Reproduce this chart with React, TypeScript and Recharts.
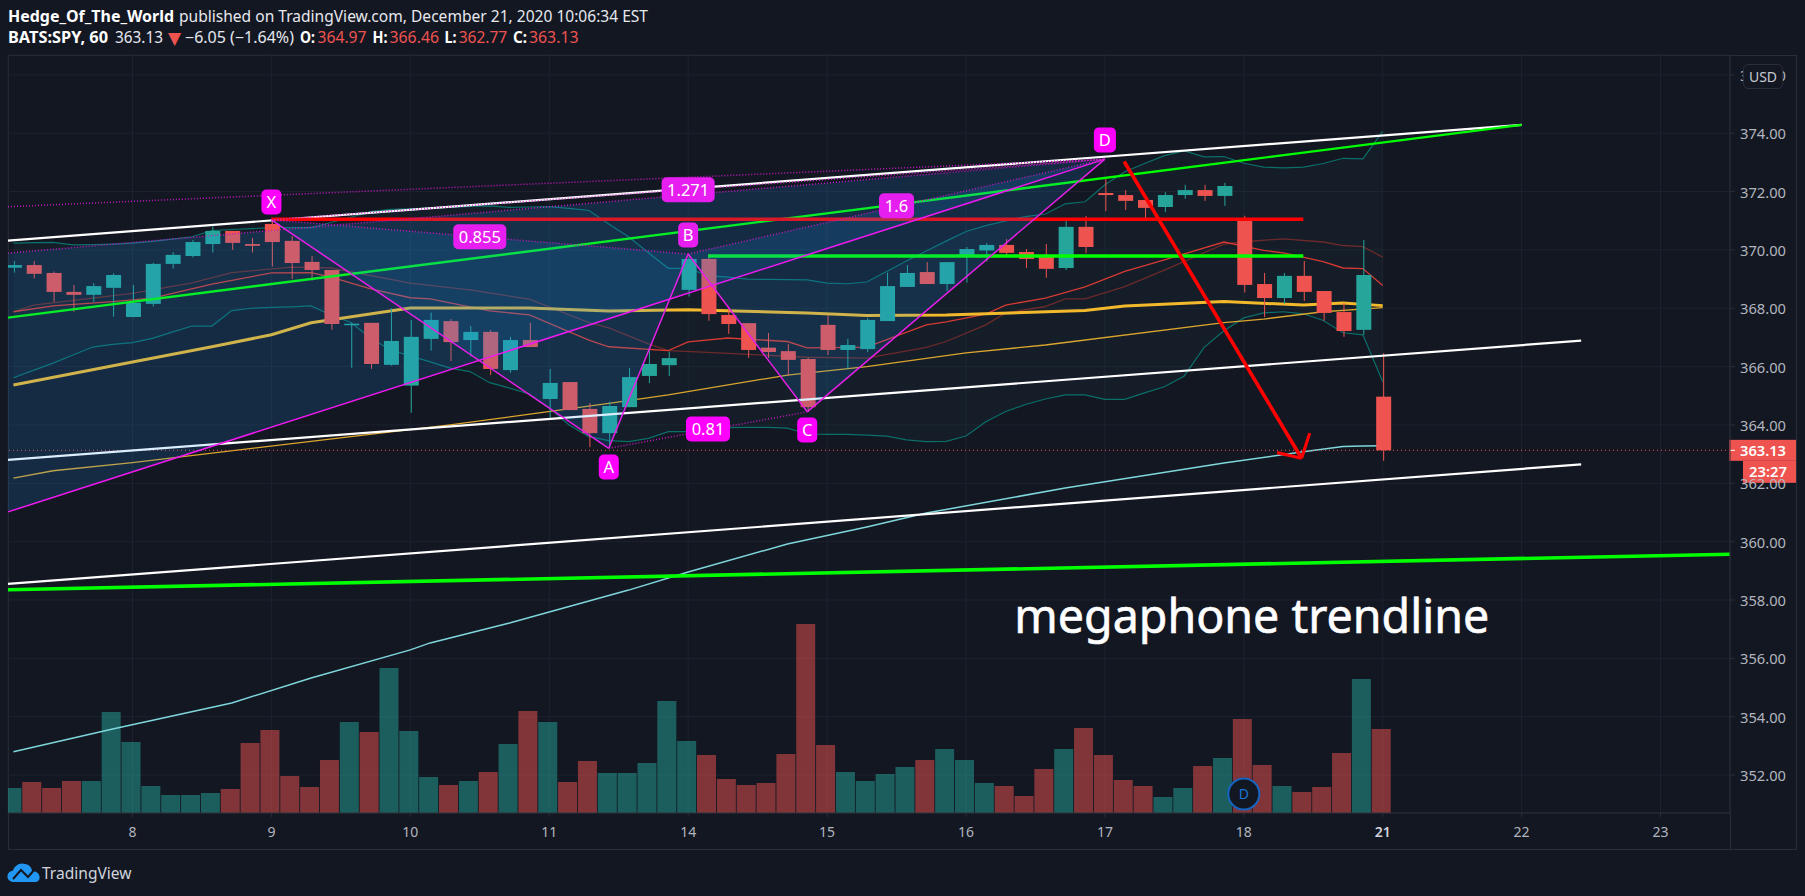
import React from "react";
import {
  ComposedChart, XAxis, YAxis, CartesianGrid, Bar, Line, Area,
  ReferenceLine, ReferenceDot,
} from "recharts";

const FONT = "'Noto Sans', 'Open Sans', sans-serif";
const BG = "#131722";
const UP = "#26a69a";
const DOWN = "#ef5350";
const GRID = "#1e222e";
const FRAME = "#2a2e39";
const TEXT = "#b2b5be";
const CANDLE_W = 15;
const VOL_W = 19;

// hourly bars; index 0 is the first bar of Dec 8
const barStart = -6;
const opens = [369.39,369.48,369.21,368.56,368.46,368.70,367.70,368.15,369.52,369.79,370.20,370.65,370.20,370.89,370.31,369.59,369.31,367.45,367.50,366.06,365.35,366.95,367.56,366.91,367.19,365.88,366.91,364.89,365.47,364.55,363.72,364.61,365.68,366.05,368.63,369.69,367.77,367.49,366.65,366.53,366.26,367.43,366.57,366.60,367.56,368.73,369.24,368.83,369.79,369.98,370.17,369.93,369.76,369.38,370.79,371.95,371.88,371.71,371.47,371.88,372.05,371.85,370.99,368.83,368.35,369.11,368.59,367.87,367.26,364.97];
const highs = [369.62,369.62,369.26,368.80,368.86,369.20,368.80,369.56,369.92,370.34,370.80,370.65,370.41,371.03,370.48,369.79,369.31,367.50,367.50,368.00,367.60,367.85,367.63,367.39,367.26,367.02,367.50,365.92,365.47,364.75,364.80,365.95,366.63,366.51,369.86,369.86,368.00,367.49,367.15,366.77,366.31,367.77,366.95,367.67,369.22,369.48,369.58,369.58,370.10,370.24,370.37,370.03,370.20,370.99,371.16,372.47,372.05,371.71,371.98,372.23,372.23,372.30,371.17,369.21,369.21,369.62,368.59,368.18,370.34,366.46];
const lows = [369.22,369.02,368.22,367.88,368.22,367.71,367.69,368.06,369.36,369.74,369.91,370.00,369.91,369.43,369.00,368.95,367.26,365.96,365.92,366.03,364.42,366.55,366.19,366.35,365.71,365.79,366.67,364.17,364.51,363.24,363.20,364.61,365.43,365.68,368.40,367.57,367.12,366.30,366.30,365.68,364.44,366.40,365.93,366.50,367.56,368.73,368.83,368.59,368.88,369.60,369.76,369.38,369.04,369.31,369.89,371.33,371.37,371.03,371.30,371.75,371.68,371.51,368.54,367.70,368.15,368.25,367.57,367.02,367.09,362.77];
const closes = [369.48,369.18,368.56,368.46,368.76,369.14,368.19,369.52,369.83,370.27,370.65,370.24,370.14,370.27,369.55,369.31,367.46,367.47,366.09,366.88,367.02,367.60,366.84,367.19,365.92,366.91,366.67,365.44,364.51,363.72,364.65,365.64,366.09,366.29,369.69,367.80,367.46,366.57,366.50,366.23,364.61,366.57,366.74,367.60,368.76,369.21,368.83,369.58,370.03,370.17,369.90,369.69,369.35,370.79,370.10,371.88,371.68,371.44,371.88,372.05,371.85,372.19,368.80,368.35,369.11,368.56,367.84,367.22,369.14,363.13];
const volumes = [25,31,25,32,32,101,71,27,18,18,20,24,70,83,37,26,53,91,81,145,82,36,28,32,41,69,102,91,31,52,40,40,50,112,72,58,34,28,30,59,189,68,41,32,39,46,53,64,53,30,27,17,44,64,85,58,33,27,16,25,47,55,94,48,27,21,26,60,134,84];

const bbUpper = [370.23,370.25,370.26,370.17,370.18,370.20,370.23,370.29,370.37,370.45,370.66,370.70,370.73,370.76,370.76,370.76,370.94,371.12,371.31,371.39,371.41,371.44,371.46,371.49,371.51,371.46,371.47,371.48,371.42,371.35,370.89,370.45,369.90,369.37,369.37,369.12,369.07,369.00,368.99,368.98,368.97,368.86,368.84,368.90,369.26,369.62,369.96,370.30,370.63,370.83,370.99,371.14,371.23,371.58,371.65,372.23,372.68,372.96,373.23,373.39,373.19,373.20,372.97,372.84,372.81,372.84,372.96,373.14,373.12,374.06];
const bbLower = [365.62,365.87,366.12,366.40,366.67,366.76,366.82,366.97,367.18,367.39,367.39,367.92,368.00,368.03,368.05,368.08,367.77,367.51,366.98,366.57,366.37,366.16,365.95,365.83,365.45,365.26,365.06,364.58,364.00,363.60,363.46,363.43,363.54,363.77,363.77,363.85,363.91,363.92,363.92,363.89,363.69,363.68,363.68,363.65,363.62,363.49,363.43,363.44,363.62,364.11,364.46,364.70,364.89,365.03,365.03,364.88,364.88,365.10,365.31,365.68,366.66,367.23,367.67,367.84,367.88,367.81,367.58,367.16,367.09,365.48];

// moving averages, read at the bar indices listed beside each
const redMaAt = [-6,-4,-1,1,4,7,9,10,12,14,15,18,20,23,24,27,28,30,33,34,37,40,41,43,44,46,48,50,52,55,57,58,60,61,62,63];
const redMa = [367.88,368.08,368.23,368.35,368.83,369.21,369.22,369.07,368.66,368.36,368.32,367.91,367.77,366.91,366.68,366.55,366.85,366.98,366.86,366.64,366.67,367.43,367.53,367.80,368.11,368.35,368.73,369.26,369.66,370.27,369.98,369.90,369.60,369.38,369.36,368.78];
const brownMaAt = [-6,-5,0,3,5,8,10,14,17,20,23,24,26,27,29,34,37,40,41,43,44,46,47,48,50,52,55,56,58,60,61,62,63];
const brownMa = [367.88,368.11,368.51,368.87,369.22,369.41,369.38,368.86,368.63,368.31,367.51,367.33,366.78,366.55,366.49,366.32,366.29,366.66,366.86,367.43,367.84,368.06,368.32,368.32,368.74,369.31,370.20,370.28,370.38,370.27,370.15,370.11,369.75];
const goldMaAt = [-6,0,4,7,9,14,20,24,28,34,37,41,48,50,55,59,61,63];
const goldMa = [365.37,366.16,366.68,367.09,367.50,368.01,368.01,367.91,367.95,367.84,367.75,367.77,367.92,368.08,368.23,368.11,368.18,368.09];
const amberMaAt = [-6,-4,0,16,24,27,33,37,42,46,55,57,60,63];
const amberMa = [362.18,362.43,362.71,364.00,364.74,365.03,365.71,366.00,366.47,366.74,367.51,367.63,367.88,368.02];
const cyanMaAt = [-6,-1,5,9,14,15,19,25,28,33,37,40,47,55,59,61,62,63];
const cyanMa = [352.80,353.58,354.47,355.33,356.29,356.53,357.21,358.34,358.96,359.92,360.50,360.98,361.84,362.70,363.08,363.26,363.28,363.29];

// axes
const xMin = -6.274;
const xMax = 80.5;
const yMin = 350.70;
const yMax = 376.68;
const dayTicks = [0,7,14,21,28,35,42,49,56,63,70,77];
const dayLabels = ["8","9","10","11","14","15","16","17","18","21","22","23"];
const priceTicks = [352,354,356,358,360,362,364,366,368,370,372,374,376];
const lastPrice = 363.13;

// XABCD pattern pivots [bar index, price]
const pX = [7, 371.03];
const pA = [24, 363.20];
const pB = [28, 369.86];
const pC = [34, 364.45];
const pD = [49, 373.11];
const outerLow = [xMin, 361.02];
const outerMid = [xMin, 369.89];
const outerTop = [xMin, 371.48];

// pattern fill corners: [index, lower price, upper price]
const fillOuter = [[xMin, 361.02, 369.89],[49, 373.11, 373.11]];
const fillXAB = [[7, 371.03, 371.03],[24, 363.20, 370.08],[28, 369.86, 369.86]];
const fillBCD = [[28, 369.86, 369.86],[34, 364.45, 370.79],[49, 373.11, 373.11]];

// trend lines: [x1, price1, x2, price2]
const whiteTop = [xMin, 370.32, 70, 374.285];
const greenTop = [xMin, 367.68, 70, 374.285];
const whiteMid = [xMin, 362.80, 73, 366.89];
const whiteLow = [xMin, 358.55, 73, 362.65];
const greenLow = [xMin, 358.35, xMax, 359.57];
const redLevel = [7, 371.05, 59, 371.05];
const greenLevel = [29, 369.79, 59, 369.79];
const arrowShaft = [49.97, 373.03, 58.91, 362.86];
const arrowHeadA = [57.68, 363.05, 58.91, 362.86];
const arrowHeadB = [59.32, 363.72, 58.91, 362.86];

function buildRows() {
  const map = new Map();
  const row = (i) => {
    if (!map.has(i)) map.set(i, { i });
    return map.get(i);
  };
  opens.forEach((o, k) => {
    const r = row(barStart + k);
    r.o = o; r.h = highs[k]; r.l = lows[k]; r.c = closes[k];
    r.wick = [lows[k], highs[k]];
    r.vol = volumes[k];
    r.bbUp = bbUpper[k];
    r.bbLo = bbLower[k];
    r.bb = [bbLower[k], bbUpper[k]];
  });
  const put = (key, at, vals) => at.forEach((i, k) => { row(i)[key] = vals[k]; });
  put("redMa", redMaAt, redMa);
  put("brownMa", brownMaAt, brownMa);
  put("goldMa", goldMaAt, goldMa);
  put("amberMa", amberMaAt, amberMa);
  put("cyanMa", cyanMaAt, cyanMa);
  fillOuter.forEach(([i, a, b]) => { row(i).fOuter = [a, b]; });
  fillXAB.forEach(([i, a, b]) => { row(i).fXAB = [a, b]; });
  fillBCD.forEach(([i, a, b]) => { row(i).fBCD = [a, b]; });
  return Array.from(map.values()).sort((a, b) => a.i - b.i);
}
const rows = buildRows();

const Candle = (props) => {
  const { x, y, width, height, payload } = props;
  if (!payload || payload.o == null || !Number.isFinite(y)) return null;
  const unit = height / (payload.h - payload.l);
  const isUp = payload.c >= payload.o;
  const color = isUp ? UP : DOWN;
  const top = y + (payload.h - Math.max(payload.o, payload.c)) * unit;
  const bodyH = Math.max(1.5, Math.abs(payload.o - payload.c) * unit);
  const cx = x + width / 2;
  return (
    <g>
      <line x1={cx} x2={cx} y1={y} y2={y + height} stroke={color} strokeWidth={1} />
      <rect x={cx - CANDLE_W / 2} y={top} width={CANDLE_W} height={bodyH} fill={color} />
    </g>
  );
};

const VolBar = (props) => {
  const { x, y, width, height, payload } = props;
  if (!payload || payload.o == null || !Number.isFinite(y)) return null;
  const color = payload.c >= payload.o ? UP : DOWN;
  const cx = x + width / 2;
  return <rect x={cx - VOL_W / 2} y={y} width={VOL_W} height={height} fill={color} fillOpacity={0.5} />;
};

let z = 1;
const nextZ = () => z++;

const seg = (s, stroke, width, dash, zi, key) => (
  <ReferenceLine
    key={key}
    yAxisId="price"
    ifOverflow="visible"
    zIndex={zi}
    segment={[{ x: s[0], y: s[1] }, { x: s[2], y: s[3] }]}
    stroke={stroke}
    strokeWidth={width}
    strokeDasharray={dash}
  />
);

const tag = (label, i, price, w, fill, zi) => (
  <ReferenceDot
    key={label}
    yAxisId="price"
    x={i}
    y={price}
    r={0}
    ifOverflow="visible"
    zIndex={zi}
    shape={(p) => (
      <g>
        <rect x={p.cx - w / 2} y={p.cy - 12.5} width={w} height={25} rx={5} fill={fill} />
        <text x={p.cx} y={p.cy + 6} textAnchor="middle" fontFamily={FONT} fontSize={16.5} fill="#ffffff">{label}</text>
      </g>
    )}
  />
);

const series = (key, color, width, zi) => (
  <Line
    key={key}
    yAxisId="price"
    dataKey={key}
    stroke={color}
    strokeWidth={width}
    dot={false}
    activeDot={false}
    connectNulls
    isAnimationActive={false}
    zIndex={zi}
  />
);

const patternFill = (key, zi) => (
  <Area
    key={key}
    yAxisId="price"
    dataKey={key}
    stroke="none"
    fill="#2196f3"
    fillOpacity={0.16}
    connectNulls
    dot={false}
    activeDot={false}
    isAnimationActive={false}
    zIndex={zi}
  />
);

const headerRuns = [
  ["Hedge_Of_The_World", 8, 166, 17, 700, "#ffffff"],
  ["published on TradingView.com, December 21, 2020 10:06:34 EST", 179, 469, 17, 400, "#e6e8ee"],
  ["BATS:SPY, 60", 8, 100, 38, 700, "#ffffff"],
  ["363.13", 115, 48, 38, 400, "#e6e8ee"],
  ["−6.05 (−1.64%)", 185, 109, 38, 400, "#e6e8ee"],
  ["O:", 300, 15, 38, 700, "#ffffff"],
  ["364.97", 317.5, 49, 38, 400, DOWN],
  ["H:", 372.5, 15, 38, 700, "#ffffff"],
  ["366.46", 389.5, 49.5, 38, 400, DOWN],
  ["L:", 444.5, 12, 38, 700, "#ffffff"],
  ["362.77", 458.7, 48.5, 38, 400, DOWN],
  ["C:", 513, 14, 38, 700, "#ffffff"],
  ["363.13", 529, 49.5, 38, 400, DOWN],
];

export default function App() {
  z = 1;
  const zVol = nextZ();
  const zBb = nextZ();
  const zBbLines = nextZ();
  const zMa = nextZ();
  const zCandles = nextZ();
  const zTrends = nextZ();
  const zFill = nextZ();
  const zPattern = nextZ();
  const zLabels = nextZ();

  return (
    <div style={{ position: "absolute", left: 0, top: 0, width: 1805, height: 896, background: BG, overflow: "hidden" }}>
      <div style={{ position: "absolute", left: 8, top: 55, width: 1787, height: 793, border: `1px solid ${FRAME}` }} />
      <div style={{ position: "absolute", left: 1730, top: 813, width: 1, height: 36, background: FRAME }} />
      <div style={{ position: "absolute", left: 0, top: 0 }}>
        <ComposedChart
          width={1805}
          height={896}
          data={rows}
          margin={{ top: 55, left: 8, right: 9, bottom: 47 }}
        >
          <CartesianGrid stroke={GRID} yAxisId="price" />
          <XAxis
            dataKey="i"
            type="number"
            domain={[xMin, xMax]}
            ticks={dayTicks}
            allowDataOverflow
            height={36}
            interval={0}
            stroke={FRAME}
            tickSize={4}
            tick={(p) => {
              const label = dayLabels[dayTicks.indexOf(p.payload.value)];
              const strong = label === "21";
              return (
                <text x={p.x} y={837} textAnchor="middle" fontFamily={FONT} fontSize={14}
                  fontWeight={strong ? 600 : 400} fill={strong ? "#d1d4dc" : TEXT}>{label}</text>
              );
            }}
          />
          <YAxis
            yAxisId="price"
            orientation="right"
            type="number"
            domain={[yMin, yMax]}
            ticks={priceTicks}
            allowDataOverflow
            width={66}
            stroke={FRAME}
            tickSize={5}
            interval={0}
            tick={(p) => (
              <text x={1740} y={p.y + 6} fontFamily={FONT} fontSize={14.5} fill={TEXT} textLength={46} lengthAdjust="spacingAndGlyphs">
                {p.payload.value.toFixed(2)}
              </text>
            )}
          />
          <YAxis yAxisId="vol" hide type="number" domain={[0, 758]} allowDataOverflow />

          <Bar yAxisId="vol" dataKey="vol" barSize={19} shape={VolBar} isAnimationActive={false} zIndex={zVol} />
          <Area yAxisId="price" dataKey="bb" stroke="none" fill={UP} fillOpacity={0.05} connectNulls dot={false} activeDot={false} isAnimationActive={false} zIndex={zBb} />
          {series("bbUp", "#0b6f6a", 1.2, zBbLines)}
          {series("bbLo", "#0b6f6a", 1.2, zBbLines)}
          {series("brownMa", "#6d2a2b", 1.3, zMa)}
          {series("redMa", "#d63a33", 1.3, zMa)}
          {series("amberMa", "#dba52e", 1.3, zMa)}
          {series("goldMa", "#f2b92c", 3, zMa)}
          {series("cyanMa", "#7fd6dc", 1.5, zMa)}
          <ReferenceLine yAxisId="price" y={lastPrice} stroke={DOWN} strokeWidth={1} strokeDasharray="1 3" ifOverflow="visible" zIndex={zMa} />
          <Bar yAxisId="price" dataKey="wick" barSize={15} shape={Candle} isAnimationActive={false} zIndex={zCandles} />

          {seg(whiteTop, "#ffffff", 2.2, undefined, zTrends, "wt")}
          {seg(greenTop, "#00ff00", 2.4, undefined, zTrends, "gt")}
          {seg(whiteMid, "#ffffff", 2.2, undefined, zTrends, "wm")}
          {seg(whiteLow, "#ffffff", 2.2, undefined, zTrends, "wl")}
          {seg(greenLow, "#00ff00", 3.6, undefined, zTrends, "gl")}
          {seg(redLevel, "#ff0000", 3.4, undefined, zTrends, "rl")}
          {seg(greenLevel, "#00ff00", 3.4, undefined, zTrends, "gv")}

          {patternFill("fOuter", zFill)}
          {patternFill("fXAB", zFill)}
          {patternFill("fBCD", zFill)}

          {seg([pX[0], pX[1], pA[0], pA[1]], "#e81fe8", 1.5, undefined, zPattern, "xa")}
          {seg([pA[0], pA[1], pB[0], pB[1]], "#e81fe8", 1.5, undefined, zPattern, "ab")}
          {seg([pB[0], pB[1], pC[0], pC[1]], "#e81fe8", 1.5, undefined, zPattern, "bc")}
          {seg([pC[0], pC[1], pD[0], pD[1]], "#e81fe8", 1.5, undefined, zPattern, "cd")}
          {seg([outerLow[0], outerLow[1], pD[0], pD[1]], "#f018f0", 1.5, undefined, zPattern, "od")}
          {seg([pX[0], pX[1], pB[0], pB[1]], "#c41ac4", 1.5, "1 2", zPattern, "xb")}
          {seg([pB[0], pB[1], pD[0], pD[1]], "#c41ac4", 1.5, "1 2", zPattern, "bd")}
          {seg([pX[0], pX[1], pD[0], pD[1]], "#d63ad6", 1.5, "1 2", zPattern, "xd")}
          {seg([pA[0], pA[1], pC[0], pC[1]], "#c41ac4", 1.5, "1 2", zPattern, "ac")}
          {seg([outerMid[0], outerMid[1], pD[0], pD[1]], "#c41ac4", 1.5, "1 2", zPattern, "md")}
          {seg([outerTop[0], outerTop[1], pD[0], pD[1]], "#c41ac4", 1.5, "1 2", zPattern, "td")}

          {seg(arrowShaft, "#ff0000", 3.6, undefined, zPattern, "a1")}
          {seg(arrowHeadA, "#ff0000", 3.2, undefined, zPattern, "a2")}
          {seg(arrowHeadB, "#ff0000", 3.2, undefined, zPattern, "a3")}

          {tag("X", 7, 371.64, 20, "#ff00ff", zLabels)}
          {tag("A", 24, 362.56, 20, "#ff00ff", zLabels)}
          {tag("B", 28, 370.51, 20, "#e61ff0", zLabels)}
          {tag("C", 34, 363.83, 20, "#ff00ff", zLabels)}
          {tag("D", 49, 373.77, 22, "#ff00ff", zLabels)}
          {tag("0.855", 17.5, 370.45, 53, "#e61ff0", zLabels)}
          {tag("1.271", 28, 372.06, 53, "#e61ff0", zLabels)}
          {tag("1.6", 38.5, 371.51, 35, "#e61ff0", zLabels)}
          {tag("0.81", 29, 363.86, 44, "#ff00ff", zLabels)}

          <ReferenceDot yAxisId="price" x={56.4} y={356.87} r={0} ifOverflow="visible" zIndex={zLabels}
            shape={(p) => (
              <text x={p.cx} y={p.cy} textAnchor="middle" fontFamily={FONT} fontSize={48} fill="#ffffff"
                stroke="#ffffff" strokeWidth={0.6} textLength={475} lengthAdjust="spacingAndGlyphs">megaphone trendline</text>
            )}
          />
          <ReferenceDot yAxisId="price" x={56} y={351.35} r={0} ifOverflow="visible" zIndex={zLabels}
            shape={(p) => (
              <g>
                <circle cx={p.cx} cy={p.cy} r={15.5} fill={BG} stroke="#1565c0" strokeWidth={2} />
                <text x={p.cx} y={p.cy + 5} textAnchor="middle" fontFamily={FONT} fontSize={14} fill="#1976d2">D</text>
              </g>
            )}
          />
          <ReferenceDot yAxisId="price" x={xMax} y={lastPrice} r={0} ifOverflow="visible" zIndex={zLabels}
            shape={(p) => (
              <g>
                <rect x={p.cx - 1} y={p.cy - 10.5} width={67} height={21} fill={DOWN} />
                <rect x={p.cx + 13} y={p.cy + 10.5} width={53} height={22} fill={DOWN} />
                <line x1={p.cx} x2={p.cx + 5} y1={p.cy} y2={p.cy} stroke="#ffffff" strokeWidth={1} />
                <text x={p.cx + 10} y={p.cy + 5.5} fontFamily={FONT} fontSize={14.5} fontWeight={600} fill="#ffffff" textLength={46} lengthAdjust="spacingAndGlyphs">{lastPrice.toFixed(2)}</text>
                <text x={p.cx + 19} y={p.cy + 27} fontFamily={FONT} fontSize={14.5} fontWeight={600} fill="#ffffff" textLength={38} lengthAdjust="spacingAndGlyphs">23:27</text>
              </g>
            )}
          />
        </ComposedChart>
      </div>

      <div style={{
        position: "absolute", left: 1743, top: 64, width: 38, height: 23, lineHeight: "23px",
        border: `1px solid ${FRAME}`, borderRadius: 5, background: BG, color: "#c7cad3",
        fontFamily: FONT, fontSize: 14, textAlign: "center",
      }}>USD</div>

      <svg width={1805} height={896} style={{ position: "absolute", left: 0, top: 0, pointerEvents: "none" }}>
        {headerRuns.map(([t, x, w, cy, weight, fill], k) => (
          <text key={k} x={x} y={cy + 5} fontFamily={FONT} fontSize={15.5} fontWeight={weight} fill={fill}
            textLength={w} lengthAdjust="spacingAndGlyphs">{t}</text>
        ))}
        <text x={168} y={44} fontFamily="'DejaVu Sans', sans-serif" fontSize={17} fill={DOWN}>▼</text>
        <path d="M14 882 C6 882 5 872 13 870.5 C14 866 20 862 25 864 C29 864 32 868 32 871 C41 871 42 882 35 882 Z" fill="#2196f3" />
        <polyline points="13,879 21,870 28,877 35,869" fill="none" stroke={BG} strokeWidth={2} />
        <text x={42} y={879} fontFamily={FONT} fontSize={16} fill="#d1d4dc" textLength={89.5} lengthAdjust="spacingAndGlyphs">TradingView</text>
      </svg>
    </div>
  );
}
